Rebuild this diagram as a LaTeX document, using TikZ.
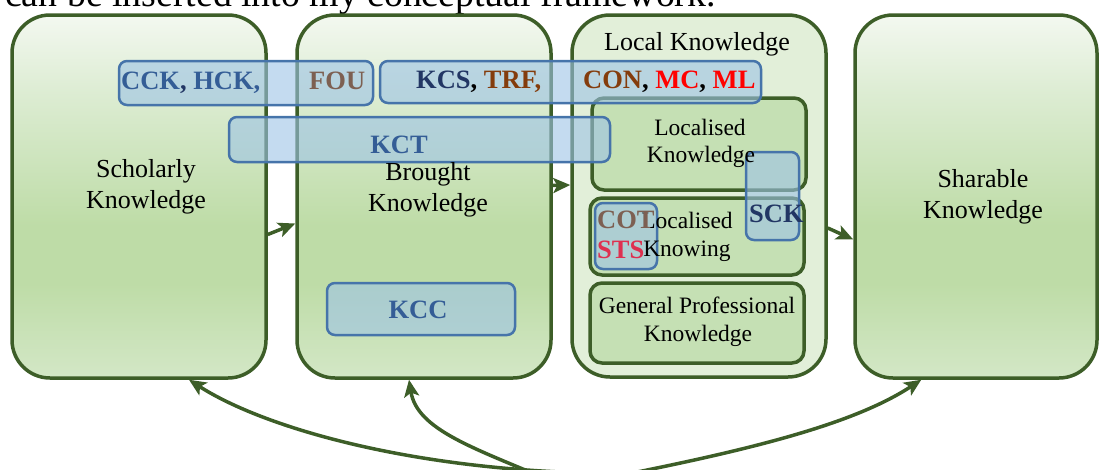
\documentclass[tikz,border=0pt]{standalone}
\usepackage{fontspec}
\setmainfont{Liberation Serif}
\usetikzlibrary{arrows.meta}

\definecolor{gT}{HTML}{F3F8F0}
\definecolor{gM}{HTML}{DCECD2}
\definecolor{gD}{HTML}{BEDCA7}
\definecolor{gB}{HTML}{D3E7C6}
\definecolor{edge}{HTML}{3D5E28}
\definecolor{localfill}{HTML}{E2EFD9}
\definecolor{innerfill}{HTML}{C5E0B4}
\definecolor{tagfill}{HTML}{9DC3E6}
\definecolor{tagedge}{HTML}{4674AA}
\definecolor{tblue}{RGB}{52,93,150}
\definecolor{tnavy}{RGB}{34,54,100}
\definecolor{tbrown}{RGB}{132,60,12}
\definecolor{tgrey}{RGB}{125,96,82}
\definecolor{tcrimson}{RGB}{222,48,80}

\pgfdeclareverticalshading{greenfade}{100bp}{color(0bp)=(gB); color(25bp)=(gB); color(38bp)=(gD); color(46bp)=(gD); color(64bp)=(gM); color(75bp)=(gT); color(100bp)=(gT)}

\tikzset{
  bigbox/.style={draw=edge, line width=3.5pt, rounded corners=38pt, shading=greenfade, inner sep=0pt},
  localbox/.style={draw=edge, line width=3.5pt, rounded corners=38pt, fill=localfill, inner sep=0pt},
  subbox/.style={draw=edge, line width=3.5pt, rounded corners=12pt, fill=innerfill, inner sep=0pt},
  tag/.style={draw=tagedge, line width=2.5pt, rounded corners=8pt, fill=tagfill, fill opacity=0.6, inner sep=0pt},
  lbl/.style={font=\fontsize{26}{31}\selectfont, inner sep=0pt, anchor=base},
  sublbl/.style={font=\fontsize{23.5}{28}\selectfont, inner sep=0pt, anchor=base},
  tagtext/.style={font=\bfseries\fontsize{26.5}{30}\selectfont, inner sep=0pt},
  flow/.style={draw=edge, line width=3.5pt, -{Stealth[length=17pt,width=15pt,inset=4pt]}}
}

\begin{document}
\begin{tikzpicture}[x=1pt,y=-1pt]
\clip (0,0) rectangle (1099,469);

% running text above the figure
\node[anchor=base west, font=\fontsize{37.8}{40}\selectfont, inner sep=0pt] (head) at (5,6) {can be inserted into my conceptual framework.};

% main knowledge boxes
\node[bigbox, minimum width=254pt, minimum height=363pt] (sch) at (139,196.5) {};
\node[bigbox, minimum width=254pt, minimum height=363pt] (bro) at (424,196.5) {};
\node[localbox, minimum width=254pt, minimum height=362pt] (loc) at (699,196) {};
\node[bigbox, minimum width=242pt, minimum height=363pt] (sha) at (976,196.5) {};

% parts of local knowledge
\node[subbox, minimum width=214pt, minimum height=92pt] (lk) at (699,144) {};
\node[subbox, minimum width=214pt, minimum height=77pt] (lkg) at (697,236.5) {};
\node[subbox, minimum width=214pt, minimum height=80pt] (gpk) at (697,323) {};

% flow between boxes
\draw[flow] ([yshift=-38pt]sch.east) -- ([yshift=-27pt]bro.west);
\draw[flow] ([yshift=11pt]bro.east) -- ([yshift=11pt]loc.west);
\draw[flow] ([yshift=-32pt]loc.east) -- ([yshift=-43pt]sha.west);

% feedback curves from below
\coordinate (srcL) at (560,472);
\coordinate (srcM) at (549,480);
\coordinate (srcR) at (560,487);
\draw[flow] (srcL) .. controls +(-170,-8) and +(70,45) .. ([xshift=50pt]sch.south);
\draw[flow] (srcM) .. controls +(-75,-32) and +(8,50) .. ([xshift=-15pt]bro.south);
\draw[flow] (srcR) .. controls +(170,-32) and +(-73,48) .. ([xshift=68pt]sha.south west);

% knowledge-domain tags
\node[tag, minimum width=254pt, minimum height=44pt] (tagA) at (246,83) {};
\node[tag, minimum width=381pt, minimum height=42pt] (tagB) at (570.5,82) {};
\node[tag, minimum width=381pt, minimum height=45pt] (tagC) at (419.5,139.5) {};
\node[tag, minimum width=188pt, minimum height=52pt] (tagD) at (421,309) {};
\node[tag, minimum width=53pt, minimum height=88pt] (tagE) at (772.5,196) {};
\node[tag, minimum width=62pt, minimum height=66pt] (tagF) at (626,236) {};

% box labels
\node[lbl] (schA) at (146,177) {Scholarly};
\node[lbl] (schB) at (146,208) {Knowledge};
\node[lbl] (broA) at (428,180) {Brought};
\node[lbl] (broB) at (428,211) {Knowledge};
\node[lbl] (locA) at (697,50) {Local Knowledge};
\node[lbl] (shaA) at (983,187) {Sharable};
\node[lbl] (shaB) at (983,218) {Knowledge};
\node[sublbl] (lkA) at (700,135) {Localised};
\node[sublbl] (lkB) at (701,162) {Knowledge};
\node[sublbl] (lkgA) at (687,228) {Localised};
\node[sublbl] (lkgB) at (687,256) {Knowing};
\node[sublbl] (gpkA) at (697,313) {General Professional};
\node[sublbl] (gpkB) at (698,341) {Knowledge};

% tag texts
\node[tagtext, anchor=base west] (tA1) at (121,89) {\textcolor{tblue}{CCK}\textcolor{tnavy}{,} \textcolor{tblue}{HCK,}};
\node[tagtext, anchor=base west, text=tgrey] (tA2) at (309,89) {FOU};
\node[tagtext, anchor=base west] (tB1) at (416,88) {\textcolor{tnavy}{KCS}, \textcolor{tbrown}{TRF,}};
\node[tagtext, anchor=base west] (tB2) at (583,88) {\textcolor{tbrown}{CON}, \textcolor{red}{MC}, \textcolor{red}{ML}};
\node[tagtext, anchor=base, text=tblue] (tC) at (399,153) {KCT};
\node[tagtext, anchor=base, text=tblue] (tD) at (418,318) {KCC};
\node[tagtext, anchor=base west, text=tnavy] (tE) at (749,222) {SCK};
\node[tagtext, anchor=base west, text=tgrey] (tF1) at (597,228) {COT};
\node[tagtext, anchor=base west, text=tcrimson] (tF2) at (597,258) {STS};
\end{tikzpicture}
\end{document}
